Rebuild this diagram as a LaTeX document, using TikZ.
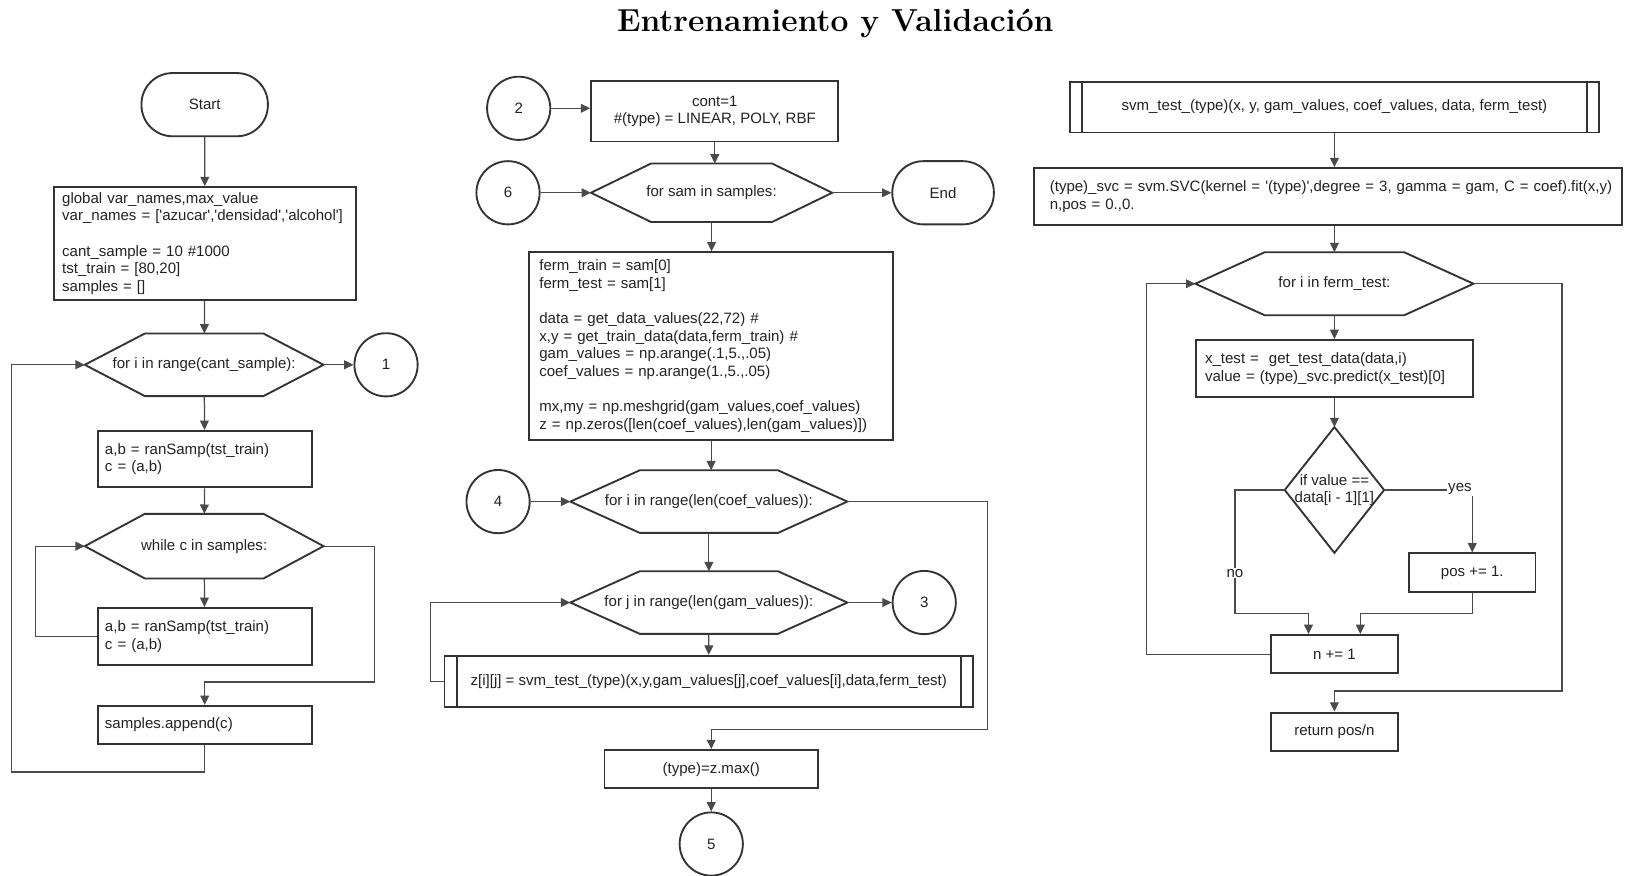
\documentclass[tikz,border=0pt]{standalone}
\usepackage{fontspec}
\setsansfont{Liberation Sans}
\usetikzlibrary{arrows.meta,calc}

\definecolor{outline}{HTML}{333333}
\definecolor{wire}{HTML}{4A4A4A}
\definecolor{txt}{HTML}{222222}

\newcommand\flowfont{\sffamily\fontsize{14.5}{17}\selectfont}
\newcommand\sq{\textquotesingle}

% hexagonal loop header drawn around a plain rectangular node
\newcommand\hexoutline[2]{%
  \draw[boxline] (#1.west) -- ([xshift=#2]#1.north west) -- ([xshift=-#2]#1.north east)
    -- (#1.east) -- ([xshift=-#2]#1.south east) -- ([xshift=#2]#1.south west) -- cycle;}
% extra side bars of a predefined-process box
\newcommand\subbars[2]{%
  \draw[boxline] ([xshift=#2]#1.north west) -- ([xshift=#2]#1.south west);
  \draw[boxline] ([xshift=-#2]#1.north east) -- ([xshift=-#2]#1.south east);}
% decision diamond around a plain node
\newcommand\diamondoutline[1]{%
  \draw[boxline] (#1.north) -- (#1.east) -- (#1.south) -- (#1.west) -- cycle;}

\begin{document}
\begin{tikzpicture}[x=1pt,y=-1pt,
  boxline/.style={draw=outline, line width=1.8pt},
  procbox/.style={boxline, fill=white, inner sep=0pt, font=\flowfont, text=txt},
  codebox/.style={procbox, align=left},
  plain/.style={inner sep=0pt, font=\flowfont, text=txt},
  terminal/.style={procbox, rounded corners=30pt},
  connector/.style={procbox, circle, minimum size=61pt},
  arr/.style={draw=wire, line width=1.2pt, -{Triangle[length=9pt,width=8.5pt]}, color=wire},
  ln/.style={draw=wire, line width=1.2pt},
  lbl/.style={plain, fill=white, inner sep=1pt}
]
\useasboundingbox (0,0) rectangle (1568,845);

\node[font=\fontsize{30.7}{34}\selectfont\bfseries] (title) at (806,23) {Entrenamiento y Validación};

% ---------------- left column: sample generation ----------------
\node[terminal, minimum width=122pt, minimum height=61pt] (start) at (197.5,101) {Start};
\node[codebox, minimum width=291.5pt, minimum height=109pt, text width=275.5pt, inner xsep=8pt] (init) at (197.75,235)
  {global var\_names,max\_value\\
   var\_names = [\sq azucar\sq,\sq densidad\sq,\sq alcohol\sq]\\
   \mbox{}\\
   cant\_sample = 10 \#1000\\
   tst\_train = [80,20]\\
   samples = []};
\node[plain, minimum width=230pt, minimum height=60pt] (h1) at (197,352) {for i in range(cant\_sample):};
\hexoutline{h1}{58}
\node[connector] (c1) at (372.5,352) {1};
\node[codebox, minimum width=206.4pt, minimum height=54.6pt, text width=192.4pt, inner xsep=7pt] (ab1) at (197.5,443)
  {a,b = ranSamp(tst\_train)\\ c = (a,b)};
\node[plain, minimum width=230pt, minimum height=62pt] (wh) at (197,527) {while c in samples:};
\hexoutline{wh}{58}
\node[codebox, minimum width=206.4pt, minimum height=55pt, text width=192.4pt, inner xsep=7pt] (ab2) at (197.5,614)
  {a,b = ranSamp(tst\_train)\\ c = (a,b)};
\node[codebox, minimum width=206.4pt, minimum height=37pt, text width=192.4pt, inner xsep=7pt] (samp) at (197.5,699.5)
  {samples.append(c)};

\coordinate (lpA) at (34,0);
\coordinate (rA) at (361,658);
\coordinate (oA) at (11.3,745);

\draw[arr] (start) -- (init);
\draw[arr] (init) -- (h1);
\draw[arr] (h1) -- (c1);
\draw[arr] (h1) -- (ab1);
\draw[arr] (ab1) -- (wh);
\draw[arr] (wh) -- (ab2);
\draw[arr] (ab2.west) -| (lpA |- wh.west) -- (wh.west);
\draw[arr] (wh.east) -| (rA) -| (samp.north);
\draw[arr] (samp.south) |- (oA) |- (h1.west);

% ---------------- middle column: grid search ----------------
\node[connector] (c2) at (500.5,104.5) {2};
\node[procbox, align=center, minimum width=238.6pt, minimum height=58pt] (cont) at (689.7,107.5)
  {cont=1\\ \#(type) = LINEAR, POLY, RBF};
\node[plain, minimum width=232.4pt, minimum height=56pt] (hs) at (686.6,186) {for sam in samples:};
\hexoutline{hs}{58}
\node[connector] (c6) at (490.2,186) {6};
\node[terminal, minimum width=98pt, minimum height=61pt] (end) at (910,186) {End};
\node[codebox, minimum width=351.5pt, minimum height=181pt, text width=331.5pt, inner xsep=10pt] (big) at (686.2,334)
  {ferm\_train = sam[0]\\
   ferm\_test = sam[1]\\
   \mbox{}\\
   data = get\_data\_values(22,72) \#\\
   x,y = get\_train\_data(data,ferm\_train) \#\\
   gam\_values = np.arange(.1,5.,.05)\\
   coef\_values = np.arange(1.,5.,.05)\\
   \mbox{}\\
   mx,my = np.meshgrid(gam\_values,coef\_values)\\
   z = np.zeros([len(coef\_values),len(gam\_values)])};
\node[plain, minimum width=267pt, minimum height=60pt] (hc) at (684,484) {for i in range(len(coef\_values)):};
\hexoutline{hc}{67}
\node[connector] (c4) at (480.6,484) {4};
\node[plain, minimum width=267pt, minimum height=60pt] (hg) at (684,581.4) {for j in range(len(gam\_values)):};
\hexoutline{hg}{67}
\node[connector] (c3) at (891.8,581.4) {3};
\node[procbox, minimum width=510pt, minimum height=49.2pt] (sub) at (683.9,657.3)
  {z[i][j] = svm\_test\_(type)(x,y,gam\_values[j],coef\_values[i],data,ferm\_test)};
\subbars{sub}{12.6}
\node[procbox, minimum width=206pt, minimum height=37pt] (zm) at (686.3,742.2) {(type)=z.max()};
\node[connector] (c5) at (686.3,814.4) {5};

\coordinate (lpB) at (415.4,0);
\coordinate (rB) at (952.7,703.7);

\draw[arr] (c2) -- (c2 -| cont.west);
\draw[arr] (cont.south) -- (cont.south |- hs.north);
\draw[arr] (c6) -- (hs);
\draw[arr] (hs) -- (end);
\draw[arr] (hs) -- (hs |- big.north);
\draw[arr] (big.south) -- (big.south |- hc.north);
\draw[arr] (c4) -- (hc);
\draw[arr] (hc) -- (hg);
\draw[arr] (hg) -- (c3);
\draw[arr] (hg) -- (sub);
\draw[arr] (sub.west) -| (lpB |- hg.west) -- (hg.west);
\draw[arr] (hc.east) -| (rB) -| (zm.north);
\draw[arr] (zm) -- (c5);

% ---------------- right column: svm_test_ routine ----------------
\node[procbox, minimum width=510pt, minimum height=49pt] (svm) at (1287.6,103.3)
  {svm\_test\_(type)(x, y, gam\_values, coef\_values, data, ferm\_test)};
\subbars{svm}{12.3}
\node[codebox, minimum width=567pt, minimum height=54.7pt, text width=537pt, inner xsep=15pt] (svc) at (1281.5,189.5)
  {\mbox{(type)\_svc = svm.SVC(kernel = \sq(type)\sq,degree = 3, gamma = gam, C = coef).fit(x,y)}\\
   n,pos = 0.,0.};
\node[plain, minimum width=268pt, minimum height=60.5pt] (ft) at (1287.6,273.8) {for i in ferm\_test:};
\hexoutline{ft}{67}
\node[codebox, minimum width=266.6pt, minimum height=54.7pt, text width=249.6pt, inner xsep=8.5pt] (xt) at (1287.6,355.4)
  {x\_test = \ get\_test\_data(data,i)\\
   value = (type)\_svc.predict(x\_test)[0]};
\node[plain, align=center, minimum width=95.5pt, minimum height=121pt] (dia) at (1287.6,472.8)
  {if value ==\\ data[i - 1][1]};
\diamondoutline{dia}
\node[procbox, minimum width=122pt, minimum height=37pt] (pos) at (1420.6,552.4) {pos += 1.};
\node[procbox, minimum width=122pt, minimum height=37pt] (n) at (1287.6,631.2) {n += 1};
\node[procbox, minimum width=122pt, minimum height=37pt] (ret) at (1287.6,706.1) {return pos/n};

\coordinate (noC) at (1191.6,591.8);
\coordinate (lpC) at (1106,0);
\coordinate (rC) at (1507.2,666.7);

\draw[arr] (svm.south) -- (svm.south |- svc.north);
\draw[arr] (ft.north |- svc.south) -- (ft.north);
\draw[arr] (ft) -- (xt);
\draw[arr] (xt) -- (dia);
\draw[arr] (dia.east) -| (pos.north);
\draw[arr] (dia.west) -| (noC) -| ([xshift=-25pt]n.north);
\draw[arr] (pos.south) -- (pos.south |- noC) -| ([xshift=25pt]n.north);
\draw[arr] (n.west) -| (lpC |- ft.west) -- (ft.west);
\draw[arr] (ft.east) -| (rC) -| (ret.north);

\node[lbl] (yes) at (1408.7,472) {yes};
\node[lbl] (no) at (1191.6,553) {no};

\end{tikzpicture}
\end{document}
